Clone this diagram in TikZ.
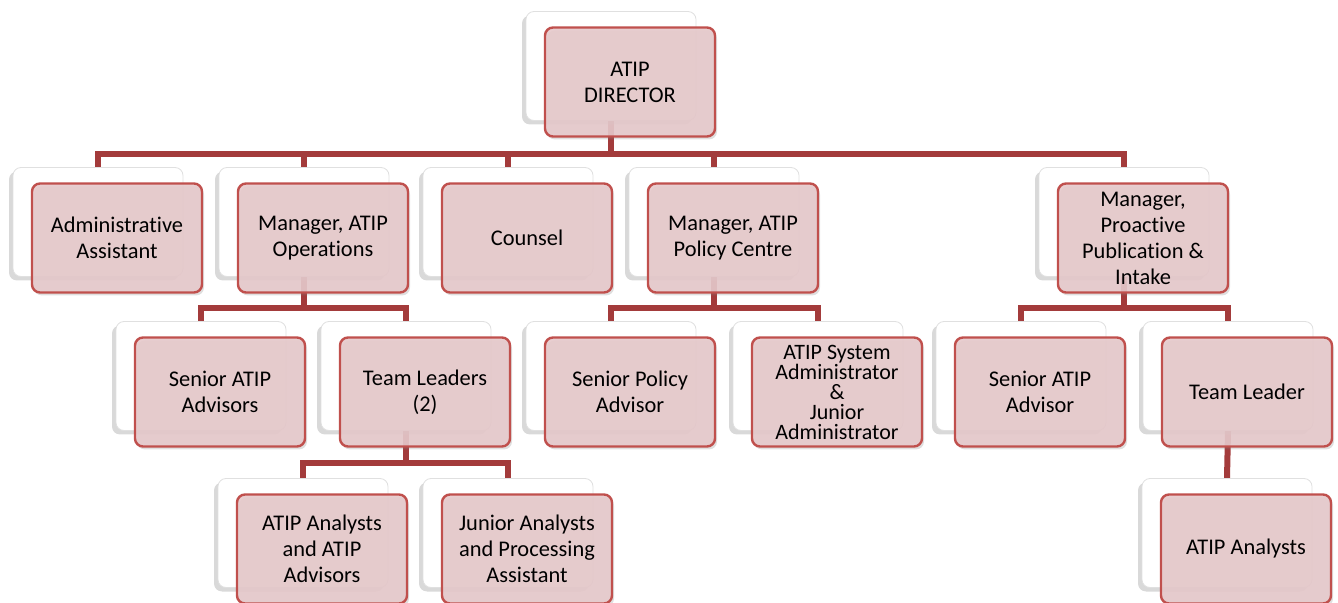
\documentclass[tikz,border=0pt]{standalone}
\usepackage{fontspec}
\setmainfont{Carlito}[Ligatures=NoCommon]
\usetikzlibrary{positioning,shadows,backgrounds}
\definecolor{rojo}{HTML}{C0504D}
\definecolor{vino}{HTML}{A33B3B}
\definecolor{rosa}{HTML}{E6C9CB}

\begin{document}
\begin{tikzpicture}[x=0.5pt,y=-0.5pt,font=\fontsize{11.2}{13}\selectfont,
        b/.style={draw=rojo,line width=1.2pt,fill=rosa,fill opacity=.9,text opacity=1,rounded corners=4pt,
          minimum width=85pt,minimum height=54.5pt,inner sep=1pt,align=center,
          drop shadow={shadow xshift=1pt,shadow yshift=-1.5pt,opacity=.25}},
        s/.style={draw=black!12,fill=white,rounded corners=4pt,minimum width=85pt,minimum height=54.5pt,
          drop shadow={shadow xshift=-2pt,shadow yshift=-2pt,opacity=.3}},
        l/.style={vino,line width=3pt}]
        \useasboundingbox (0,0) rectangle (1338,603);
        \foreach \n/\x/\y/\txt in {dir/630/82/{ATIP\\DIRECTOR},
            adm/117/238/{Administrative\\Assistant},ops/323/238/{Manager, ATIP\\Operations},
            coun/527/238/{Counsel},pol/733/238/{Manager, ATIP\\Policy Centre},
            pro/1143/238/{Manager,\\Proactive\\Publication \&\\Intake},
            sen1/220/392/{Senior ATIP\\Advisors},tls/425/392/{Team Leaders\\(2)},
            spa/630/392/{Senior Policy\\Advisor},sen2/1040/392/{Senior ATIP\\Advisor},
            tl2/1247/392/{Team Leader},
            an1/322/549/{ATIP Analysts\\and ATIP\\Advisors},jun/527/549/{Junior Analysts\\and Processing\\Assistant},
            an2/1246/549/{ATIP Analysts}}{
          \node[s] (\n-s) at (\x-19,\y-16) {};
          \node[b] (\n) at (\x,\y) {\txt};
        }
        \node[s] (sys-s) at (818,376) {};
        \node[b,font=\fontsize{11}{10}\selectfont] (sys) at (837,392) {ATIP System\\Administrator\\\&\\Junior\\Administrator};
        \begin{scope}[on background layer]
          \foreach \c in {adm,ops,coun,pol,pro}
            \draw[l] (dir-s.south) -- ++(0,33) -| (\c-s.north);
          \foreach \c in {sen1,tls} \draw[l] (ops-s.south) -- ++(0,31) -| (\c-s.north);
          \foreach \c in {spa,sys} \draw[l] (pol-s.south) -- ++(0,31) -| (\c-s.north);
          \foreach \c in {sen2,tl2} \draw[l] (pro-s.south) -- ++(0,31) -| (\c-s.north);
          \foreach \c in {an1,jun} \draw[l] (tls-s.south) -- ++(0,32) -| (\c-s.north);
          \draw[l] (tl2-s.south) -- (an2-s.north);
        \end{scope}
      \end{tikzpicture}
\end{document}
